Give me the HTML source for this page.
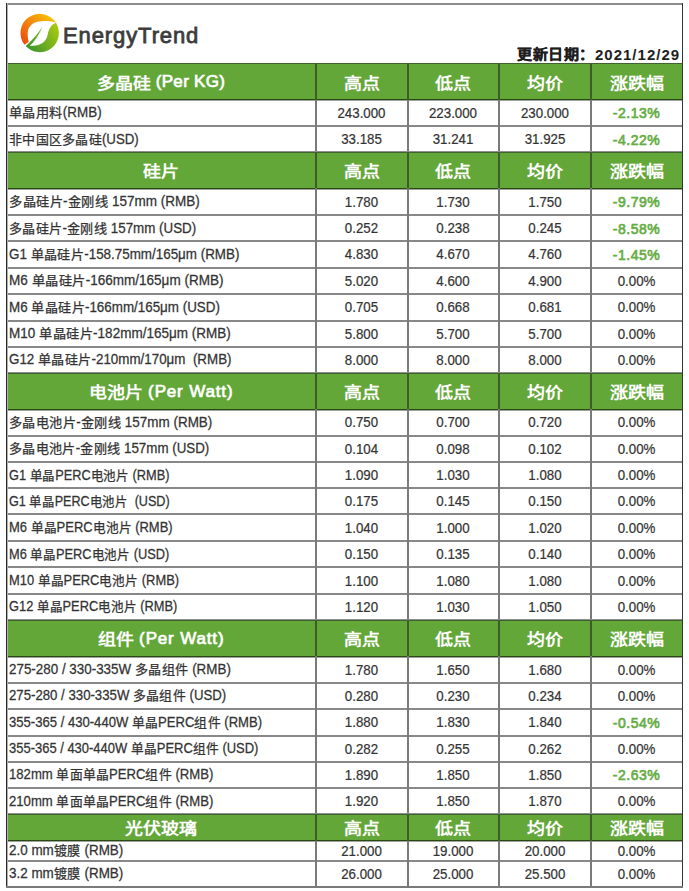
<!DOCTYPE html>
<html lang="zh-CN"><head><meta charset="utf-8">
<style>
*{margin:0;padding:0;box-sizing:border-box}
html,body{width:689px;height:891px;overflow:hidden;background:#fff}
body{position:relative;font-family:"Liberation Sans",sans-serif;color:#333;text-autospace:no-autospace}
.a{position:absolute}
.hl{position:absolute;height:2px;background:#888}
.vl{position:absolute;width:2px;background:#7a7a7a}
.gh{position:absolute;background:#63a739}
.hd{position:absolute;display:flex;align-items:center;justify-content:center;color:#fff;font-weight:bold;font-size:18px;white-space:nowrap}
.c{position:absolute;display:flex;align-items:center;justify-content:center;font-size:13.3px;white-space:nowrap;color:#333;-webkit-text-stroke:0.2px #333}
.c>span{display:inline-block;transform:scaleY(1.08);position:relative;top:0.7px}
.l{position:absolute;display:flex;align-items:center;font-size:14px;white-space:nowrap;color:#333;-webkit-text-stroke:0.25px #333;padding-left:2.5px}
.neg{color:#66ad43;font-weight:normal;font-size:14px;letter-spacing:0.5px;-webkit-text-stroke:0.65px #66ad43}
.neg>span{top:0.5px !important}
.k{display:inline-block;font-size:13px;letter-spacing:0.3px}
.t{display:inline-block;font-size:13.3px;transform:scaleY(1.08);white-space:pre}
.ls{display:inline-block;transform-origin:0 50%;position:relative;top:-1px}
.hk{display:inline-block;transform:scaleY(0.88)}
.ht{display:inline-block;font-size:17px;white-space:pre;letter-spacing:0.3px;font-weight:normal;-webkit-text-stroke:0.7px #fff;position:relative;top:-2.5px}
</style></head><body>

<svg class="a" style="left:0;top:0" width="70" height="60" viewBox="0 0 70 60">
<defs>
<linearGradient id="og" gradientUnits="userSpaceOnUse" x1="24" y1="45" x2="52" y2="15"><stop offset="0" stop-color="#ea4a0c"/><stop offset="0.45" stop-color="#f28012"/><stop offset="1" stop-color="#f7c800"/></linearGradient>
<linearGradient id="gg" gradientUnits="userSpaceOnUse" x1="27" y1="47" x2="58" y2="26"><stop offset="0" stop-color="#3b952c"/><stop offset="1" stop-color="#a9cb10"/></linearGradient>
<linearGradient id="vg" gradientUnits="userSpaceOnUse" x1="26" y1="46" x2="42" y2="27"><stop offset="0" stop-color="#3b952c"/><stop offset="1" stop-color="#7fb820"/></linearGradient>
</defs>
<path d="M24.57,44.82 A19.2,19.2 0 1 1 55.98,22.83 C52,21 46,20.6 39.7,21.4 A12,12 0 0 0 27.7,33.5 C27.7,37 28,40 28.9,41.8 Z" fill="url(#og)"/>
<path d="M25.66,46.09 A19.2,19.2 0 0 0 55.98,22.83 C50.5,25 48.6,30 47.6,35 C46.2,42 40.5,45.6 33,45.7 Z" fill="url(#gg)"/>
<path d="M25.6,46.3 C30,42 37,35.5 42.2,27 C39.2,35 34,42 29.8,46 Z" fill="url(#vg)"/>
</svg>
<div class="a" id="et" style="left:63px;top:23px;font-size:22px;line-height:26px;color:#3c3c3c;-webkit-text-stroke:0.8px #3c3c3c;letter-spacing:0.9px">EnergyTrend</div>
<div class="a" id="dt" style="left:517px;top:45.5px;font-size:15px;line-height:18px;font-weight:bold;color:#1e1e1e;white-space:nowrap"><span style="display:inline-block;transform:scaleY(0.91);transform-origin:50% 0;letter-spacing:0.6px;-webkit-text-stroke:0.35px #1e1e1e">更新日期：</span><span style="letter-spacing:1px">2021/12/29</span></div>

<div class="gh" style="left:6px;top:63.5px;width:676px;height:36.0px"></div>
<div class="hd" style="left:6px;top:63.5px;width:310px;height:36.0px"><span><span class="hk">多晶硅</span><span class="ht"> (Per KG)</span></span></div>
<div class="hd" style="left:316px;top:63.5px;width:91px;height:36.0px"><span><span class="hk">高点</span></span></div>
<div class="hd" style="left:407px;top:63.5px;width:92px;height:36.0px"><span><span class="hk">低点</span></span></div>
<div class="hd" style="left:499px;top:63.5px;width:92px;height:36.0px"><span><span class="hk">均价</span></span></div>
<div class="hd" style="left:591px;top:63.5px;width:91px;height:36.0px"><span><span class="hk">涨跌幅</span></span></div>
<div class="l" style="left:6px;top:99.5px;width:310px;height:26.5px"><span class="ls" style="transform:scaleX(1.0109)"><span class="k">单晶用料</span><span class="t">(RMB)</span></span></div>
<div class="c" style="left:316px;top:99.5px;width:91px;height:26.5px"><span>243.000</span></div>
<div class="c" style="left:407px;top:99.5px;width:92px;height:26.5px"><span>223.000</span></div>
<div class="c" style="left:499px;top:99.5px;width:92px;height:26.5px"><span>230.000</span></div>
<div class="c neg" style="left:591px;top:99.5px;width:91px;height:26.5px"><span>-2.13%</span></div>
<div class="l" style="left:6px;top:126.0px;width:310px;height:26.5px"><span class="ls" style="transform:scaleX(0.9981)"><span class="k">非中国区多晶硅</span><span class="t">(USD)</span></span></div>
<div class="c" style="left:316px;top:126.0px;width:91px;height:26.5px"><span>33.185</span></div>
<div class="c" style="left:407px;top:126.0px;width:92px;height:26.5px"><span>31.241</span></div>
<div class="c" style="left:499px;top:126.0px;width:92px;height:26.5px"><span>31.925</span></div>
<div class="c neg" style="left:591px;top:126.0px;width:91px;height:26.5px"><span>-4.22%</span></div>
<div class="a" style="left:6px;top:63px;width:676px;height:1px;background:#40622e"></div>
<div class="a" style="left:6px;top:99px;width:676px;height:1px;background:#27490f"></div>
<div class="a" style="left:6px;top:100px;width:676px;height:1px;background:#a2a2a2"></div>
<div class="hl" style="left:6px;top:125.0px;width:676px"></div>
<div class="vl" style="left:315px;top:63.5px;height:36.0px;background:#3d5e2a"></div>
<div class="vl" style="left:315px;top:99.5px;height:53.0px"></div>
<div class="vl" style="left:407px;top:63.5px;height:36.0px;background:#3d5e2a"></div>
<div class="vl" style="left:407px;top:99.5px;height:53.0px"></div>
<div class="vl" style="left:498px;top:63.5px;height:36.0px;background:#3d5e2a"></div>
<div class="vl" style="left:498px;top:99.5px;height:53.0px"></div>
<div class="vl" style="left:590px;top:63.5px;height:36.0px;background:#3d5e2a"></div>
<div class="vl" style="left:590px;top:99.5px;height:53.0px"></div>
<div class="gh" style="left:6px;top:152.5px;width:676px;height:35.5px"></div>
<div class="hd" style="left:6px;top:152.5px;width:310px;height:35.5px"><span><span class="hk">硅片</span></span></div>
<div class="hd" style="left:316px;top:152.5px;width:91px;height:35.5px"><span><span class="hk">高点</span></span></div>
<div class="hd" style="left:407px;top:152.5px;width:92px;height:35.5px"><span><span class="hk">低点</span></span></div>
<div class="hd" style="left:499px;top:152.5px;width:92px;height:35.5px"><span><span class="hk">均价</span></span></div>
<div class="hd" style="left:591px;top:152.5px;width:91px;height:35.5px"><span><span class="hk">涨跌幅</span></span></div>
<div class="l" style="left:6px;top:188.0px;width:310px;height:27.0px"><span class="ls" style="transform:scaleX(1.0165)"><span class="k">多晶硅片</span><span class="t">-</span><span class="k">金刚线</span><span class="t"> 157mm (RMB)</span></span></div>
<div class="c" style="left:316px;top:188.0px;width:91px;height:27.0px"><span>1.780</span></div>
<div class="c" style="left:407px;top:188.0px;width:92px;height:27.0px"><span>1.730</span></div>
<div class="c" style="left:499px;top:188.0px;width:92px;height:27.0px"><span>1.750</span></div>
<div class="c neg" style="left:591px;top:188.0px;width:91px;height:27.0px"><span>-9.79%</span></div>
<div class="l" style="left:6px;top:215.0px;width:310px;height:26.0px"><span class="ls" style="transform:scaleX(1.0054)"><span class="k">多晶硅片</span><span class="t">-</span><span class="k">金刚线</span><span class="t"> 157mm (USD)</span></span></div>
<div class="c" style="left:316px;top:215.0px;width:91px;height:26.0px"><span>0.252</span></div>
<div class="c" style="left:407px;top:215.0px;width:92px;height:26.0px"><span>0.238</span></div>
<div class="c" style="left:499px;top:215.0px;width:92px;height:26.0px"><span>0.245</span></div>
<div class="c neg" style="left:591px;top:215.0px;width:91px;height:26.0px"><span>-8.58%</span></div>
<div class="l" style="left:6px;top:241.0px;width:310px;height:26.5px"><span class="ls" style="transform:scaleX(1.0079)"><span class="t">G1 </span><span class="k">单晶硅片</span><span class="t">-158.75mm/165μm (RMB)</span></span></div>
<div class="c" style="left:316px;top:241.0px;width:91px;height:26.5px"><span>4.830</span></div>
<div class="c" style="left:407px;top:241.0px;width:92px;height:26.5px"><span>4.670</span></div>
<div class="c" style="left:499px;top:241.0px;width:92px;height:26.5px"><span>4.760</span></div>
<div class="c neg" style="left:591px;top:241.0px;width:91px;height:26.5px"><span>-1.45%</span></div>
<div class="l" style="left:6px;top:267.5px;width:310px;height:26.5px"><span class="ls" style="transform:scaleX(1.0171)"><span class="t">M6 </span><span class="k">单晶硅片</span><span class="t">-166mm/165μm (RMB)</span></span></div>
<div class="c" style="left:316px;top:267.5px;width:91px;height:26.5px"><span>5.020</span></div>
<div class="c" style="left:407px;top:267.5px;width:92px;height:26.5px"><span>4.600</span></div>
<div class="c" style="left:499px;top:267.5px;width:92px;height:26.5px"><span>4.900</span></div>
<div class="c" style="left:591px;top:267.5px;width:91px;height:26.5px"><span>0.00%</span></div>
<div class="l" style="left:6px;top:294.0px;width:310px;height:26.5px"><span class="ls" style="transform:scaleX(1.0072)"><span class="t">M6 </span><span class="k">单晶硅片</span><span class="t">-166mm/165μm (USD)</span></span></div>
<div class="c" style="left:316px;top:294.0px;width:91px;height:26.5px"><span>0.705</span></div>
<div class="c" style="left:407px;top:294.0px;width:92px;height:26.5px"><span>0.668</span></div>
<div class="c" style="left:499px;top:294.0px;width:92px;height:26.5px"><span>0.681</span></div>
<div class="c" style="left:591px;top:294.0px;width:91px;height:26.5px"><span>0.00%</span></div>
<div class="l" style="left:6px;top:320.5px;width:310px;height:26.0px"><span class="ls" style="transform:scaleX(1.0161)"><span class="t">M10 </span><span class="k">单晶硅片</span><span class="t">-182mm/165μm (RMB)</span></span></div>
<div class="c" style="left:316px;top:320.5px;width:91px;height:26.0px"><span>5.800</span></div>
<div class="c" style="left:407px;top:320.5px;width:92px;height:26.0px"><span>5.700</span></div>
<div class="c" style="left:499px;top:320.5px;width:92px;height:26.0px"><span>5.700</span></div>
<div class="c" style="left:591px;top:320.5px;width:91px;height:26.0px"><span>0.00%</span></div>
<div class="l" style="left:6px;top:346.5px;width:310px;height:26.5px"><span class="ls" style="transform:scaleX(1.0059)"><span class="t">G12 </span><span class="k">单晶硅片</span><span class="t">-210mm/170μm &nbsp;(RMB)</span></span></div>
<div class="c" style="left:316px;top:346.5px;width:91px;height:26.5px"><span>8.000</span></div>
<div class="c" style="left:407px;top:346.5px;width:92px;height:26.5px"><span>8.000</span></div>
<div class="c" style="left:499px;top:346.5px;width:92px;height:26.5px"><span>8.000</span></div>
<div class="c" style="left:591px;top:346.5px;width:91px;height:26.5px"><span>0.00%</span></div>
<div class="a" style="left:6px;top:151px;width:676px;height:1px;background:#8e8e8e"></div>
<div class="a" style="left:6px;top:152px;width:676px;height:1px;background:#40622e"></div>
<div class="a" style="left:6px;top:188px;width:676px;height:1px;background:#27490f"></div>
<div class="a" style="left:6px;top:189px;width:676px;height:1px;background:#a2a2a2"></div>
<div class="hl" style="left:6px;top:214.0px;width:676px"></div>
<div class="hl" style="left:6px;top:240.0px;width:676px"></div>
<div class="hl" style="left:6px;top:266.5px;width:676px"></div>
<div class="hl" style="left:6px;top:293.0px;width:676px"></div>
<div class="hl" style="left:6px;top:319.5px;width:676px"></div>
<div class="hl" style="left:6px;top:345.5px;width:676px"></div>
<div class="vl" style="left:315px;top:152.5px;height:35.5px;background:#3d5e2a"></div>
<div class="vl" style="left:315px;top:188.0px;height:185.0px"></div>
<div class="vl" style="left:407px;top:152.5px;height:35.5px;background:#3d5e2a"></div>
<div class="vl" style="left:407px;top:188.0px;height:185.0px"></div>
<div class="vl" style="left:498px;top:152.5px;height:35.5px;background:#3d5e2a"></div>
<div class="vl" style="left:498px;top:188.0px;height:185.0px"></div>
<div class="vl" style="left:590px;top:152.5px;height:35.5px;background:#3d5e2a"></div>
<div class="vl" style="left:590px;top:188.0px;height:185.0px"></div>
<div class="gh" style="left:6px;top:373.0px;width:676px;height:36.0px"></div>
<div class="hd" style="left:6px;top:373.0px;width:310px;height:36.0px"><span><span class="hk">电池片</span><span class="ht" style="letter-spacing:0.85px"> (Per Watt)</span></span></div>
<div class="hd" style="left:316px;top:373.0px;width:91px;height:36.0px"><span><span class="hk">高点</span></span></div>
<div class="hd" style="left:407px;top:373.0px;width:92px;height:36.0px"><span><span class="hk">低点</span></span></div>
<div class="hd" style="left:499px;top:373.0px;width:92px;height:36.0px"><span><span class="hk">均价</span></span></div>
<div class="hd" style="left:591px;top:373.0px;width:91px;height:36.0px"><span><span class="hk">涨跌幅</span></span></div>
<div class="l" style="left:6px;top:409.0px;width:310px;height:26.5px"><span class="ls" style="transform:scaleX(1.0115)"><span class="k">多晶电池片</span><span class="t">-</span><span class="k">金刚线</span><span class="t"> 157mm (RMB)</span></span></div>
<div class="c" style="left:316px;top:409.0px;width:91px;height:26.5px"><span>0.750</span></div>
<div class="c" style="left:407px;top:409.0px;width:92px;height:26.5px"><span>0.700</span></div>
<div class="c" style="left:499px;top:409.0px;width:92px;height:26.5px"><span>0.720</span></div>
<div class="c" style="left:591px;top:409.0px;width:91px;height:26.5px"><span>0.00%</span></div>
<div class="l" style="left:6px;top:435.5px;width:310px;height:26.5px"><span class="ls" style="transform:scaleX(1.0041)"><span class="k">多晶电池片</span><span class="t">-</span><span class="k">金刚线</span><span class="t"> 157mm (USD)</span></span></div>
<div class="c" style="left:316px;top:435.5px;width:91px;height:26.5px"><span>0.104</span></div>
<div class="c" style="left:407px;top:435.5px;width:92px;height:26.5px"><span>0.098</span></div>
<div class="c" style="left:499px;top:435.5px;width:92px;height:26.5px"><span>0.102</span></div>
<div class="c" style="left:591px;top:435.5px;width:91px;height:26.5px"><span>0.00%</span></div>
<div class="l" style="left:6px;top:462.0px;width:310px;height:26.0px"><span class="ls" style="transform:scaleX(0.9610)"><span class="t">G1 </span><span class="k">单晶</span><span class="t">PERC</span><span class="k">电池片</span><span class="t"> (RMB)</span></span></div>
<div class="c" style="left:316px;top:462.0px;width:91px;height:26.0px"><span>1.090</span></div>
<div class="c" style="left:407px;top:462.0px;width:92px;height:26.0px"><span>1.030</span></div>
<div class="c" style="left:499px;top:462.0px;width:92px;height:26.0px"><span>1.080</span></div>
<div class="c" style="left:591px;top:462.0px;width:91px;height:26.0px"><span>0.00%</span></div>
<div class="l" style="left:6px;top:488.0px;width:310px;height:26.3px"><span class="ls" style="transform:scaleX(0.9496)"><span class="t">G1 </span><span class="k">单晶</span><span class="t">PERC</span><span class="k">电池片</span><span class="t"> &nbsp;(USD)</span></span></div>
<div class="c" style="left:316px;top:488.0px;width:91px;height:26.3px"><span>0.175</span></div>
<div class="c" style="left:407px;top:488.0px;width:92px;height:26.3px"><span>0.145</span></div>
<div class="c" style="left:499px;top:488.0px;width:92px;height:26.3px"><span>0.150</span></div>
<div class="c" style="left:591px;top:488.0px;width:91px;height:26.3px"><span>0.00%</span></div>
<div class="l" style="left:6px;top:514.3px;width:310px;height:26.7px"><span class="ls" style="transform:scaleX(0.9755)"><span class="t">M6 </span><span class="k">单晶</span><span class="t">PERC</span><span class="k">电池片</span><span class="t"> (RMB)</span></span></div>
<div class="c" style="left:316px;top:514.3px;width:91px;height:26.7px"><span>1.040</span></div>
<div class="c" style="left:407px;top:514.3px;width:92px;height:26.7px"><span>1.000</span></div>
<div class="c" style="left:499px;top:514.3px;width:92px;height:26.7px"><span>1.020</span></div>
<div class="c" style="left:591px;top:514.3px;width:91px;height:26.7px"><span>0.00%</span></div>
<div class="l" style="left:6px;top:541.0px;width:310px;height:26.3px"><span class="ls" style="transform:scaleX(0.9638)"><span class="t">M6 </span><span class="k">单晶</span><span class="t">PERC</span><span class="k">电池片</span><span class="t"> (USD)</span></span></div>
<div class="c" style="left:316px;top:541.0px;width:91px;height:26.3px"><span>0.150</span></div>
<div class="c" style="left:407px;top:541.0px;width:92px;height:26.3px"><span>0.135</span></div>
<div class="c" style="left:499px;top:541.0px;width:92px;height:26.3px"><span>0.140</span></div>
<div class="c" style="left:591px;top:541.0px;width:91px;height:26.3px"><span>0.00%</span></div>
<div class="l" style="left:6px;top:567.3px;width:310px;height:26.2px"><span class="ls" style="transform:scaleX(0.9714)"><span class="t">M10 </span><span class="k">单晶</span><span class="t">PERC</span><span class="k">电池片</span><span class="t"> (RMB)</span></span></div>
<div class="c" style="left:316px;top:567.3px;width:91px;height:26.2px"><span>1.100</span></div>
<div class="c" style="left:407px;top:567.3px;width:92px;height:26.2px"><span>1.080</span></div>
<div class="c" style="left:499px;top:567.3px;width:92px;height:26.2px"><span>1.080</span></div>
<div class="c" style="left:591px;top:567.3px;width:91px;height:26.2px"><span>0.00%</span></div>
<div class="l" style="left:6px;top:593.5px;width:310px;height:26.5px"><span class="ls" style="transform:scaleX(0.9655)"><span class="t">G12 </span><span class="k">单晶</span><span class="t">PERC</span><span class="k">电池片</span><span class="t"> (RMB)</span></span></div>
<div class="c" style="left:316px;top:593.5px;width:91px;height:26.5px"><span>1.120</span></div>
<div class="c" style="left:407px;top:593.5px;width:92px;height:26.5px"><span>1.030</span></div>
<div class="c" style="left:499px;top:593.5px;width:92px;height:26.5px"><span>1.050</span></div>
<div class="c" style="left:591px;top:593.5px;width:91px;height:26.5px"><span>0.00%</span></div>
<div class="a" style="left:6px;top:372px;width:676px;height:1px;background:#8e8e8e"></div>
<div class="a" style="left:6px;top:373px;width:676px;height:1px;background:#40622e"></div>
<div class="a" style="left:6px;top:409px;width:676px;height:1px;background:#27490f"></div>
<div class="a" style="left:6px;top:410px;width:676px;height:1px;background:#a2a2a2"></div>
<div class="hl" style="left:6px;top:434.5px;width:676px"></div>
<div class="hl" style="left:6px;top:461.0px;width:676px"></div>
<div class="hl" style="left:6px;top:487.0px;width:676px"></div>
<div class="hl" style="left:6px;top:513.3px;width:676px"></div>
<div class="hl" style="left:6px;top:540.0px;width:676px"></div>
<div class="hl" style="left:6px;top:566.3px;width:676px"></div>
<div class="hl" style="left:6px;top:592.5px;width:676px"></div>
<div class="vl" style="left:315px;top:373.0px;height:36.0px;background:#3d5e2a"></div>
<div class="vl" style="left:315px;top:409.0px;height:211.0px"></div>
<div class="vl" style="left:407px;top:373.0px;height:36.0px;background:#3d5e2a"></div>
<div class="vl" style="left:407px;top:409.0px;height:211.0px"></div>
<div class="vl" style="left:498px;top:373.0px;height:36.0px;background:#3d5e2a"></div>
<div class="vl" style="left:498px;top:409.0px;height:211.0px"></div>
<div class="vl" style="left:590px;top:373.0px;height:36.0px;background:#3d5e2a"></div>
<div class="vl" style="left:590px;top:409.0px;height:211.0px"></div>
<div class="gh" style="left:6px;top:620.0px;width:676px;height:36.0px"></div>
<div class="hd" style="left:6px;top:620.0px;width:310px;height:36.0px"><span><span class="hk">组件</span><span class="ht" style="letter-spacing:0.85px"> (Per Watt)</span></span></div>
<div class="hd" style="left:316px;top:620.0px;width:91px;height:36.0px"><span><span class="hk">高点</span></span></div>
<div class="hd" style="left:407px;top:620.0px;width:92px;height:36.0px"><span><span class="hk">低点</span></span></div>
<div class="hd" style="left:499px;top:620.0px;width:92px;height:36.0px"><span><span class="hk">均价</span></span></div>
<div class="hd" style="left:591px;top:620.0px;width:91px;height:36.0px"><span><span class="hk">涨跌幅</span></span></div>
<div class="l" style="left:6px;top:656.0px;width:310px;height:26.7px"><span class="ls" style="transform:scaleX(1.0073)"><span class="t">275-280 / 330-335W </span><span class="k">多晶组件</span><span class="t"> (RMB)</span></span></div>
<div class="c" style="left:316px;top:656.0px;width:91px;height:26.7px"><span>1.780</span></div>
<div class="c" style="left:407px;top:656.0px;width:92px;height:26.7px"><span>1.650</span></div>
<div class="c" style="left:499px;top:656.0px;width:92px;height:26.7px"><span>1.680</span></div>
<div class="c" style="left:591px;top:656.0px;width:91px;height:26.7px"><span>0.00%</span></div>
<div class="l" style="left:6px;top:682.7px;width:310px;height:26.1px"><span class="ls" style="transform:scaleX(0.9927)"><span class="t">275-280 / 330-335W </span><span class="k">多晶组件</span><span class="t"> (USD)</span></span></div>
<div class="c" style="left:316px;top:682.7px;width:91px;height:26.1px"><span>0.280</span></div>
<div class="c" style="left:407px;top:682.7px;width:92px;height:26.1px"><span>0.230</span></div>
<div class="c" style="left:499px;top:682.7px;width:92px;height:26.1px"><span>0.234</span></div>
<div class="c" style="left:591px;top:682.7px;width:91px;height:26.1px"><span>0.00%</span></div>
<div class="l" style="left:6px;top:708.8px;width:310px;height:26.7px"><span class="ls" style="transform:scaleX(0.9840)"><span class="t">355-365 / 430-440W </span><span class="k">单晶</span><span class="t">PERC</span><span class="k">组件</span><span class="t"> (RMB)</span></span></div>
<div class="c" style="left:316px;top:708.8px;width:91px;height:26.7px"><span>1.880</span></div>
<div class="c" style="left:407px;top:708.8px;width:92px;height:26.7px"><span>1.830</span></div>
<div class="c" style="left:499px;top:708.8px;width:92px;height:26.7px"><span>1.840</span></div>
<div class="c neg" style="left:591px;top:708.8px;width:91px;height:26.7px"><span>-0.54%</span></div>
<div class="l" style="left:6px;top:735.5px;width:310px;height:26.0px"><span class="ls" style="transform:scaleX(0.9753)"><span class="t">355-365 / 430-440W </span><span class="k">单晶</span><span class="t">PERC</span><span class="k">组件</span><span class="t"> (USD)</span></span></div>
<div class="c" style="left:316px;top:735.5px;width:91px;height:26.0px"><span>0.282</span></div>
<div class="c" style="left:407px;top:735.5px;width:92px;height:26.0px"><span>0.255</span></div>
<div class="c" style="left:499px;top:735.5px;width:92px;height:26.0px"><span>0.262</span></div>
<div class="c" style="left:591px;top:735.5px;width:91px;height:26.0px"><span>0.00%</span></div>
<div class="l" style="left:6px;top:761.5px;width:310px;height:26.5px"><span class="ls" style="transform:scaleX(0.9874)"><span class="t">182mm </span><span class="k">单面单晶</span><span class="t">PERC</span><span class="k">组件</span><span class="t"> (RMB)</span></span></div>
<div class="c" style="left:316px;top:761.5px;width:91px;height:26.5px"><span>1.890</span></div>
<div class="c" style="left:407px;top:761.5px;width:92px;height:26.5px"><span>1.850</span></div>
<div class="c" style="left:499px;top:761.5px;width:92px;height:26.5px"><span>1.850</span></div>
<div class="c neg" style="left:591px;top:761.5px;width:91px;height:26.5px"><span>-2.63%</span></div>
<div class="l" style="left:6px;top:788.0px;width:310px;height:26.0px"><span class="ls" style="transform:scaleX(0.9874)"><span class="t">210mm </span><span class="k">单面单晶</span><span class="t">PERC</span><span class="k">组件</span><span class="t"> (RMB)</span></span></div>
<div class="c" style="left:316px;top:788.0px;width:91px;height:26.0px"><span>1.920</span></div>
<div class="c" style="left:407px;top:788.0px;width:92px;height:26.0px"><span>1.850</span></div>
<div class="c" style="left:499px;top:788.0px;width:92px;height:26.0px"><span>1.870</span></div>
<div class="c" style="left:591px;top:788.0px;width:91px;height:26.0px"><span>0.00%</span></div>
<div class="a" style="left:6px;top:619px;width:676px;height:1px;background:#8e8e8e"></div>
<div class="a" style="left:6px;top:620px;width:676px;height:1px;background:#40622e"></div>
<div class="a" style="left:6px;top:656px;width:676px;height:1px;background:#27490f"></div>
<div class="a" style="left:6px;top:657px;width:676px;height:1px;background:#a2a2a2"></div>
<div class="hl" style="left:6px;top:681.7px;width:676px"></div>
<div class="hl" style="left:6px;top:707.8px;width:676px"></div>
<div class="hl" style="left:6px;top:734.5px;width:676px"></div>
<div class="hl" style="left:6px;top:760.5px;width:676px"></div>
<div class="hl" style="left:6px;top:787.0px;width:676px"></div>
<div class="vl" style="left:315px;top:620.0px;height:36.0px;background:#3d5e2a"></div>
<div class="vl" style="left:315px;top:656.0px;height:158.0px"></div>
<div class="vl" style="left:407px;top:620.0px;height:36.0px;background:#3d5e2a"></div>
<div class="vl" style="left:407px;top:656.0px;height:158.0px"></div>
<div class="vl" style="left:498px;top:620.0px;height:36.0px;background:#3d5e2a"></div>
<div class="vl" style="left:498px;top:656.0px;height:158.0px"></div>
<div class="vl" style="left:590px;top:620.0px;height:36.0px;background:#3d5e2a"></div>
<div class="vl" style="left:590px;top:656.0px;height:158.0px"></div>
<div class="gh" style="left:6px;top:814.0px;width:676px;height:26.5px"></div>
<div class="hd" style="left:6px;top:814.0px;width:310px;height:26.5px"><span><span class="hk">光伏玻璃</span></span></div>
<div class="hd" style="left:316px;top:814.0px;width:91px;height:26.5px"><span><span class="hk">高点</span></span></div>
<div class="hd" style="left:407px;top:814.0px;width:92px;height:26.5px"><span><span class="hk">低点</span></span></div>
<div class="hd" style="left:499px;top:814.0px;width:92px;height:26.5px"><span><span class="hk">均价</span></span></div>
<div class="hd" style="left:591px;top:814.0px;width:91px;height:26.5px"><span><span class="hk">涨跌幅</span></span></div>
<div class="l" style="left:6px;top:840.5px;width:310px;height:20.2px"><span class="ls" style="transform:scaleX(1.0107)"><span class="t">2.0 mm</span><span class="k">镀膜</span><span class="t"> (RMB)</span></span></div>
<div class="c" style="left:316px;top:840.5px;width:91px;height:20.2px"><span>21.000</span></div>
<div class="c" style="left:407px;top:840.5px;width:92px;height:20.2px"><span>19.000</span></div>
<div class="c" style="left:499px;top:840.5px;width:92px;height:20.2px"><span>20.000</span></div>
<div class="c" style="left:591px;top:840.5px;width:91px;height:20.2px"><span>0.00%</span></div>
<div class="l" style="left:6px;top:860.7px;width:310px;height:26.1px"><span class="ls" style="transform:scaleX(1.0107)"><span class="t">3.2 mm</span><span class="k">镀膜</span><span class="t"> (RMB)</span></span></div>
<div class="c" style="left:316px;top:860.7px;width:91px;height:26.1px"><span>26.000</span></div>
<div class="c" style="left:407px;top:860.7px;width:92px;height:26.1px"><span>25.000</span></div>
<div class="c" style="left:499px;top:860.7px;width:92px;height:26.1px"><span>25.500</span></div>
<div class="c" style="left:591px;top:860.7px;width:91px;height:26.1px"><span>0.00%</span></div>
<div class="a" style="left:6px;top:813px;width:676px;height:1px;background:#8e8e8e"></div>
<div class="a" style="left:6px;top:814px;width:676px;height:1px;background:#40622e"></div>
<div class="a" style="left:6px;top:840px;width:676px;height:1px;background:#27490f"></div>
<div class="a" style="left:6px;top:841px;width:676px;height:1px;background:#a2a2a2"></div>
<div class="hl" style="left:6px;top:859.7px;width:676px"></div>
<div class="vl" style="left:315px;top:814.0px;height:26.5px;background:#3d5e2a"></div>
<div class="vl" style="left:315px;top:840.5px;height:46.3px"></div>
<div class="vl" style="left:407px;top:814.0px;height:26.5px;background:#3d5e2a"></div>
<div class="vl" style="left:407px;top:840.5px;height:46.3px"></div>
<div class="vl" style="left:498px;top:814.0px;height:26.5px;background:#3d5e2a"></div>
<div class="vl" style="left:498px;top:840.5px;height:46.3px"></div>
<div class="vl" style="left:590px;top:814.0px;height:26.5px;background:#3d5e2a"></div>
<div class="vl" style="left:590px;top:840.5px;height:46.3px"></div>
<div class="a" style="left:6px;top:3px;width:677px;height:2px;background:#8c8c8c"></div>
<div class="a" style="left:6px;top:3px;width:2px;height:885px;background:linear-gradient(to right,#2a2a2a 50%,#b0b0b0 50%)"></div>
<div class="a" style="left:682px;top:3px;width:1px;height:885px;background:#333"></div>
<div class="a" style="left:6px;top:886px;width:677px;height:2px;background:#7a7a7a"></div>
</body></html>
